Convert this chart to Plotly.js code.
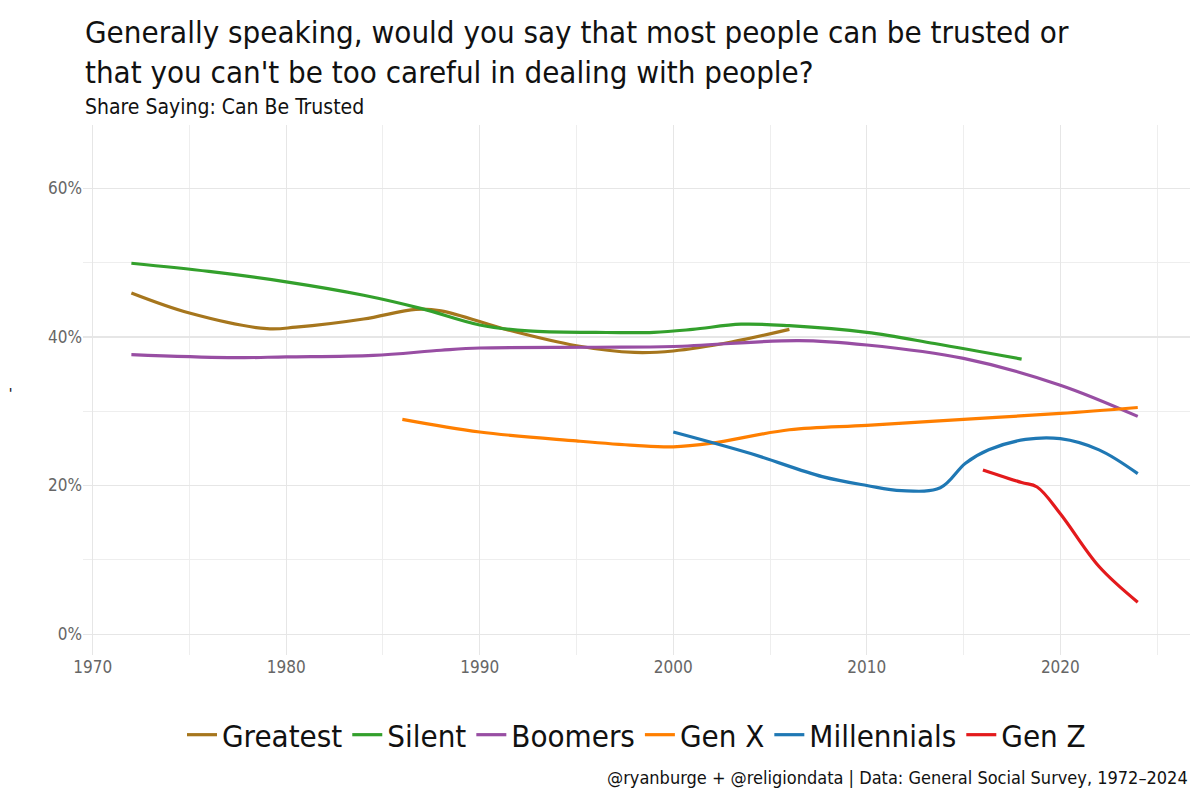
<!DOCTYPE html>
<html>
<head>
<meta charset="utf-8">
<script src="https://cdn.plot.ly/plotly-3.0.1.min.js"></script>
<style>
  html, body { margin: 0; padding: 0; background: #fff; }
  #chart { width: 1200px; height: 800px; }
</style>
</head>
<body>
<div id="chart"></div>
<script>
// values (share saying "can be trusted", %)
const greatestYears = [1972, 1975, 1979, 1980.5, 1984, 1986.7, 1988, 1991.5, 1995, 1998, 2000, 2003, 2006];
const greatestVals  = [45.9, 43.2, 41.1, 41.3, 42.4, 43.7, 43.5, 40.9, 38.8, 37.9, 38.1, 39.3, 41.0];

const silentYears = [1972, 1976, 1980, 1984, 1987, 1990, 1992.5, 1996, 1999, 2001, 2003.5, 2006, 2010, 2013.5, 2018];
const silentVals  = [49.9, 48.8, 47.4, 45.6, 43.8, 41.6, 40.8, 40.6, 40.6, 41.0, 41.7, 41.5, 40.6, 39.1, 37.0];

const boomerYears = [1972, 1977, 1980, 1984.5, 1988, 1990, 1996, 2000, 2006.5, 2010, 2015, 2020, 2024];
const boomerVals  = [37.6, 37.2, 37.3, 37.5, 38.2, 38.5, 38.6, 38.7, 39.5, 38.9, 37.1, 33.5, 29.3];

const genXYears = [1986, 1990, 1995, 1998, 2000, 2002, 2006, 2010, 2015, 2020, 2024];
const genXVals  = [28.9, 27.2, 26.0, 25.4, 25.2, 25.7, 27.5, 28.1, 28.9, 29.7, 30.5];

const millYears = [2000, 2004, 2007.7, 2010, 2011.8, 2013.8, 2015.1, 2016.3, 2018.2, 2020, 2022, 2024];
const millVals  = [27.2, 24.3, 21.2, 20.0, 19.3, 19.7, 23.0, 24.8, 26.2, 26.3, 24.8, 21.6];

const genZYears = [2016, 2018, 2018.8, 2020, 2022, 2024];
const genZVals  = [22.1, 20.4, 19.8, 16.2, 9.1, 4.3];

const seriesNames  = ['Greatest', 'Silent', 'Boomers', 'Gen X', 'Millennials', 'Gen Z'];
const seriesColors = ['#A6761D', '#33A02C', '#984EA3', '#FF7F00', '#1F78B4', '#E31A1C'];
const seriesX = [greatestYears, silentYears, boomerYears, genXYears, millYears, genZYears];
const seriesY = [greatestVals, silentVals, boomerVals, genXVals, millVals, genZVals];

const xTicks = [1970, 1980, 1990, 2000, 2010, 2020];
const yTicks = [0, 20, 40, 60];

const FONT = '"DejaVu Sans Condensed", "Liberation Sans Narrow", Roboto, sans-serif';

const traces = seriesNames.map((name, i) => ({
    x: seriesX[i],
    y: seriesY[i],
    name: name,
    type: 'scatter',
    mode: 'lines',
    line: { color: seriesColors[i], width: 3.2, shape: 'spline', smoothing: 1 },
    hoverinfo: 'skip'
}));

const layout = {
    width: 1200,
    height: 800,
    paper_bgcolor: '#fff',
    plot_bgcolor: '#fff',
    font: { family: FONT, color: '#222' },
    margin: { l: 83, r: 10, t: 125, b: 145 },
    showlegend: true,
    legend: {
        orientation: 'h',
        x: 0.5, xanchor: 'center',
        y: -0.151, yanchor: 'middle',
        font: { size: 31, color: '#111', family: FONT },
        itemwidth: 30,
        traceorder: 'normal'
    },
    xaxis: {
        range: [1969.5, 2026.7],
        tickvals: xTicks,
        ticktext: xTicks.map(String),
        tickfont: { size: 17, color: '#666' },
        showgrid: true,
        gridcolor: '#e6e6e6',
        gridwidth: 1.3,
        zeroline: false,
        showline: false,
        ticks: '',
        minor: { dtick: 5, tick0: 1970, showgrid: true, gridcolor: '#eeeeee', gridwidth: 1 }
    },
    yaxis: {
        range: [-2.8, 68.5],
        tickvals: yTicks,
        ticktext: yTicks.map(v => v + '%'),
        tickfont: { size: 17, color: '#666' },
        title: { text: '-', font: { size: 16, color: '#222' }, standoff: 40 },
        showgrid: true,
        gridcolor: '#e6e6e6',
        gridwidth: 1.3,
        zeroline: false,
        showline: false,
        ticks: '',
        minor: { dtick: 10, tick0: 0, showgrid: true, gridcolor: '#eeeeee', gridwidth: 1 }
    },
    annotations: [
        {
            text: 'Generally speaking, would you say that most people can be trusted or<br>that you can\'t be too careful in dealing with people?',
            xref: 'paper', yref: 'paper', x: 0, y: 1, xanchor: 'left', yanchor: 'bottom',
            yshift: 33,
            align: 'left', showarrow: false,
            font: { size: 31, color: '#111', family: FONT }
        },
        {
            text: 'Share Saying: Can Be Trusted',
            xref: 'paper', yref: 'paper', x: 0, y: 1, xanchor: 'left', yanchor: 'bottom',
            yshift: 4,
            align: 'left', showarrow: false,
            font: { size: 21, color: '#111', family: FONT }
        },
        {
            text: '@ryanburge + @religiondata | Data: General Social Survey, 1972–2024',
            xref: 'paper', yref: 'paper', x: 1, y: 0, xanchor: 'right', yanchor: 'top',
            yshift: -110,
            showarrow: false,
            font: { size: 18, color: '#111', family: FONT }
        }
    ]
};

Plotly.newPlot('chart', traces, layout, { displayModeBar: false, staticPlot: true });
</script>
</body>
</html>
